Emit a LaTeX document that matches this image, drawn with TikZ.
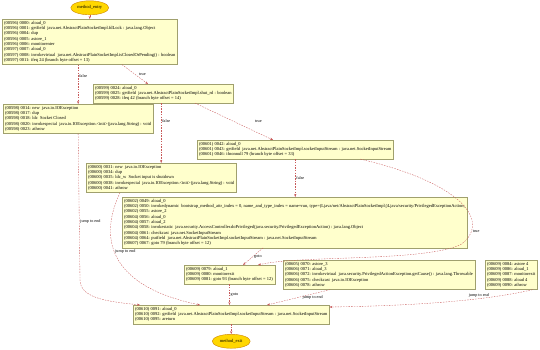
\documentclass[tikz,border=0pt]{standalone}
\usepackage{fontspec}
\setmainfont{Liberation Serif}
\usetikzlibrary{positioning, arrows.meta, shapes.geometric, calc}
\definecolor{blkfill}{RGB}{255,255,204}
\definecolor{blkline}{RGB}{160,160,110}
\definecolor{termfill}{RGB}{255,215,0}
\definecolor{termline}{RGB}{205,133,0}
\definecolor{edgered}{RGB}{200,90,90}

\begin{document}
\begin{tikzpicture}[
    x=1pt, y=-1pt,
    blk/.style={rectangle, draw=blkline, fill=blkfill, line width=0.4pt, anchor=north west, align=left, inner sep=2pt, font=\fontsize{4.5}{5.3}\selectfont},
    term/.style={ellipse, draw=termline, fill=termfill, line width=0.4pt, minimum width=38pt, minimum height=14pt, inner sep=0pt, font=\fontsize{4.5}{5}\selectfont},
    arr/.style={-{Stealth[length=3pt, width=2.2pt]}, draw=edgered, dash pattern=on 1.5pt off 1.2pt, line width=0.35pt},
    lbl/.style={font=\fontsize{4.2}{4.6}\selectfont, inner sep=1pt}
]
    \useasboundingbox (0,0) rectangle (540,349);

    \node[blk] (blk0) at (2,19) {(00596) 0000: aload\_0\\
        (00596) 0001: getfield~ java.net.AbstractPlainSocketImpl.fdLock : java.lang.Object\\
        (00596) 0004: dup\\
        (00596) 0005: astore\_1\\
        (00596) 0006: monitorenter\\
        (00597) 0007: aload\_0\\
        (00597) 0008: invokevirtual~ java.net.AbstractPlainSocketImpl.isClosedOrPending() : boolean\\
        (00597) 0011: ifeq 24 (branch byte offset = 13)};
    \node[term] (mentry) [above=4pt of blk0] {method\_entry};

    \node[blk] (blk24) at (93,84) {(00599) 0024: aload\_0\\
        (00599) 0025: getfield~ java.net.AbstractPlainSocketImpl.shut\_rd : boolean\\
        (00599) 0028: ifeq 42 (branch byte offset = 14)};

    \node[blk] (blk14) at (3,104) {(00598) 0014: new~ java.io.IOException\\
        (00598) 0017: dup\\
        (00598) 0018: ldc~ Socket Closed\\
        (00598) 0020: invokespecial~ java.io.IOException.<init>(java.lang.String) : void\\
        (00598) 0023: athrow};

    \node[blk] (blk42) at (197,140) {(00601) 0042: aload\_0\\
        (00601) 0043: getfield~ java.net.AbstractPlainSocketImpl.socketInputStream : java.net.SocketInputStream\\
        (00601) 0046: ifnonnull 79 (branch byte offset = 33)};

    \node[blk] (blk31) at (86,163) {(00600) 0031: new~ java.io.IOException\\
        (00600) 0034: dup\\
        (00600) 0035: ldc\_w~ Socket input is shutdown\\
        (00600) 0038: invokespecial~ java.io.IOException.<init>(java.lang.String) : void\\
        (00600) 0041: athrow};

    \node[blk] (blk49) at (122,197) {(00602) 0049: aload\_0\\
        (00602) 0050: invokedynamic~ bootstrap\_method\_attr\_index = 0, name\_and\_type\_index = name=run, type=(Ljava/net/AbstractPlainSocketImpl;)Ljava/security/PrivilegedExceptionAction;\\
        (00602) 0055: astore\_2\\
        (00604) 0056: aload\_0\\
        (00604) 0057: aload\_2\\
        (00604) 0058: invokestatic~ java.security.AccessController.doPrivileged(java.security.PrivilegedExceptionAction) : java.lang.Object\\
        (00604) 0061: checkcast~ java.net.SocketInputStream\\
        (00604) 0064: putfield~ java.net.AbstractPlainSocketImpl.socketInputStream : java.net.SocketInputStream\\
        (00607) 0067: goto 79 (branch byte offset = 12)};

    \node[blk] (blk79) at (184,265) {(00609) 0079: aload\_1\\
        (00609) 0080: monitorexit\\
        (00609) 0081: goto 93 (branch byte offset = 12)};

    \node[blk] (blk70) at (283,260) {(00605) 0070: astore\_3\\
        (00606) 0071: aload\_3\\
        (00606) 0072: invokevirtual~ java.security.PrivilegedActionException.getCause() : java.lang.Throwable\\
        (00606) 0075: checkcast~ java.io.IOException\\
        (00606) 0078: athrow};

    \node[blk] (blk84) at (485,260) {(00609) 0084: astore 4\\
        (00609) 0086: aload\_1\\
        (00609) 0087: monitorexit\\
        (00609) 0088: aload 4\\
        (00609) 0090: athrow};

    \node[blk] (blk91) at (133,305) {(00610) 0091: aload\_0\\
        (00610) 0092: getfield~ java.net.AbstractPlainSocketImpl.socketInputStream : java.net.SocketInputStream\\
        (00610) 0095: areturn};
    \node[term] (mexit) [below=10pt of blk91] {method\_exit};

    \draw[arr] (mentry) -- (blk0);
    \draw[arr] (blk0.south -| blk14.north) -- node[lbl, right, pos=0.3] {false} (blk14.north);
    \draw[arr] ($(blk0.south west)+(120,0)$) -- node[lbl, right=3pt] {true} ($(blk24.north west)+(55,0)$);
    \draw[arr] (blk24.south -| blk31.north) -- node[lbl, right, pos=0.3] {false} (blk31.north);
    \draw[arr] ($(blk24.south west)+(102,0)$) -- node[lbl, right=20pt] {true} ($(blk42.north west)+(76,0)$);
    \draw[arr] (blk14.south) -- node[lbl, right, pos=0.6] {jump to end} (80,280) .. controls (80,300) and (115,302) .. ($(blk91.north west)+(7,0)$);
    \draw[arr] ($(blk31.south west)+(34,0)$) .. controls (100,235) and (105,285) .. node[lbl, right, pos=0.45] {jump to end} ($(blk91.north west)+(67,0)$);
    \draw[arr] (blk42.south) -- node[lbl, right] {false} (blk42.south |- blk49.north);
    \draw[arr] ($(blk42.south east)+(-33,0)$) .. controls (470,185) and (490,225) .. node[lbl, right, pos=0.8] {true} (460,245) .. controls (420,262) and (300,255) .. ($(blk79.north east)+(-17,0)$);
    \draw[arr] ($(blk49.south west)+(141,0)$) -- node[lbl, right] {goto} ($(blk79.north west)+(59,0)$);
    \draw[arr] (blk79.south) -- node[lbl, right] {goto} (blk79.south |- blk91.north);
    \draw[arr] ($(blk70.south west)+(47,0)$) -- node[lbl, right=3pt] {jump to end} ($(blk91.north west)+(134,0)$);
    \draw[arr] ($(blk84.south east)+(-5,0)$) .. controls (480,302) and (400,306) .. node[lbl, above, pos=0.3] {jump to end} ($(blk91.north east)+(0,2)$);
    \draw[arr] (blk91) -- (mexit);
\end{tikzpicture}
\end{document}
